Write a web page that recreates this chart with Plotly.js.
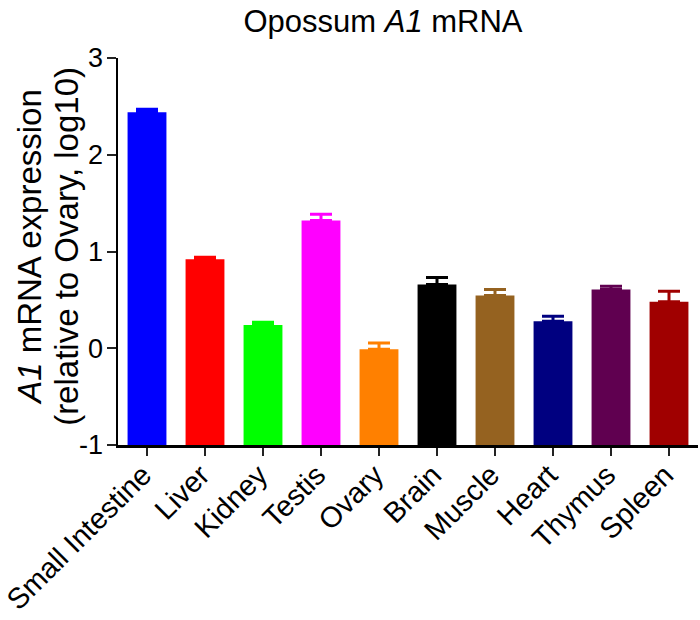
<!DOCTYPE html>
<html>
<head>
<meta charset="utf-8">
<script src="https://cdn.plot.ly/plotly-3.0.1.min.js"></script>
<style>html,body{margin:0;padding:0;background:#fff;}#chart{width:700px;height:620px;}</style>
</head>
<body>
<div id="chart"></div>
<script>
const tissues = ["Small Intestine","Liver","Kidney","Testis","Ovary","Brain","Muscle","Heart","Thymus","Spleen"];
const meanExpr = [2.44, 0.92, 0.24, 1.32, -0.01, 0.66, 0.545, 0.28, 0.607, 0.48];
const semExpr  = [0.03, 0.02, 0.03, 0.065, 0.065, 0.07, 0.062, 0.05, 0.035, 0.11];
const barColors = ["#0000FF","#FF0000","#00FF00","#FF00FF","#FF8000","#000000","#956220","#000080","#600050","#A00000"];
const yTicks = [-1, 0, 1, 2, 3];
const yMin = -1, yMax = 3;
const yTitleLines = ["<i>A1</i> mRNA expression", "(relative to Ovary, log10)"];

const FONT = "Liberation Sans, Arial, Helvetica, sans-serif";

// each bar rises from the bottom of the axis (yMin) up to its mean value
const traces = tissues.map((t, i) => ({
  type: "bar",
  x: [t],
  y: [meanExpr[i] - yMin],
  base: yMin,
  marker: {color: barColors[i], line: {width: 0}},
  width: 0.67,
  error_y: {type: "data", array: [semExpr[i]], arrayminus: [0], symmetric: false,
            color: barColors[i], thickness: 3, width: 11},
  showlegend: false,
  hoverinfo: "x+y"
}));

const layout = {
  width: 700, height: 620,
  margin: {l: 118, r: 2, t: 58, b: 175},
  paper_bgcolor: "#fff", plot_bgcolor: "#fff",
  barmode: "overlay",
  font: {family: FONT, color: "#000"},
  title: {text: "Opossum <i>A1</i> mRNA", font: {family: FONT, size: 31, color: "#000"},
          x: 383/700, xref: "container", xanchor: "center",
          y: 1 - 21/620, yref: "container", yanchor: "middle"},
  xaxis: {
    type: "category", categoryorder: "array", categoryarray: tissues,
    range: [-0.5, 9.5], showgrid: false, zeroline: false,
    showline: true, linecolor: "#000", linewidth: 2.5,
    ticks: "outside", ticklen: 8, tickwidth: 2, tickcolor: "#222",
    tickangle: -45, ticklabelstandoff: -9, ticklabelshift: -4,
    tickfont: {family: FONT, size: 29, color: "#000"}
  },
  yaxis: {
    range: [yMin, yMax], showgrid: false, zeroline: false,
    showline: true, linecolor: "#000", linewidth: 2.5,
    ticks: "outside", ticklen: 9, tickwidth: 2, tickcolor: "#222",
    tickmode: "array", tickvals: yTicks, ticktext: yTicks.map(String),
    ticklabelstandoff: -2,
    tickfont: {family: FONT, size: 27, color: "#000"}
  },
  annotations: yTitleLines.map((txt, k) => ({
    text: txt, textangle: -90, showarrow: false,
    xref: "paper", yref: "paper",
    x: k === 0 ? (30 - 118) / 580 : (67 - 118) / 580,
    y: 0.512, xanchor: "center", yanchor: "middle",
    font: {family: FONT, size: 33, color: "#000"}
  }))
};

Plotly.newPlot("chart", traces, layout, {displayModeBar: false, staticPlot: true});
</script>
</body>
</html>
